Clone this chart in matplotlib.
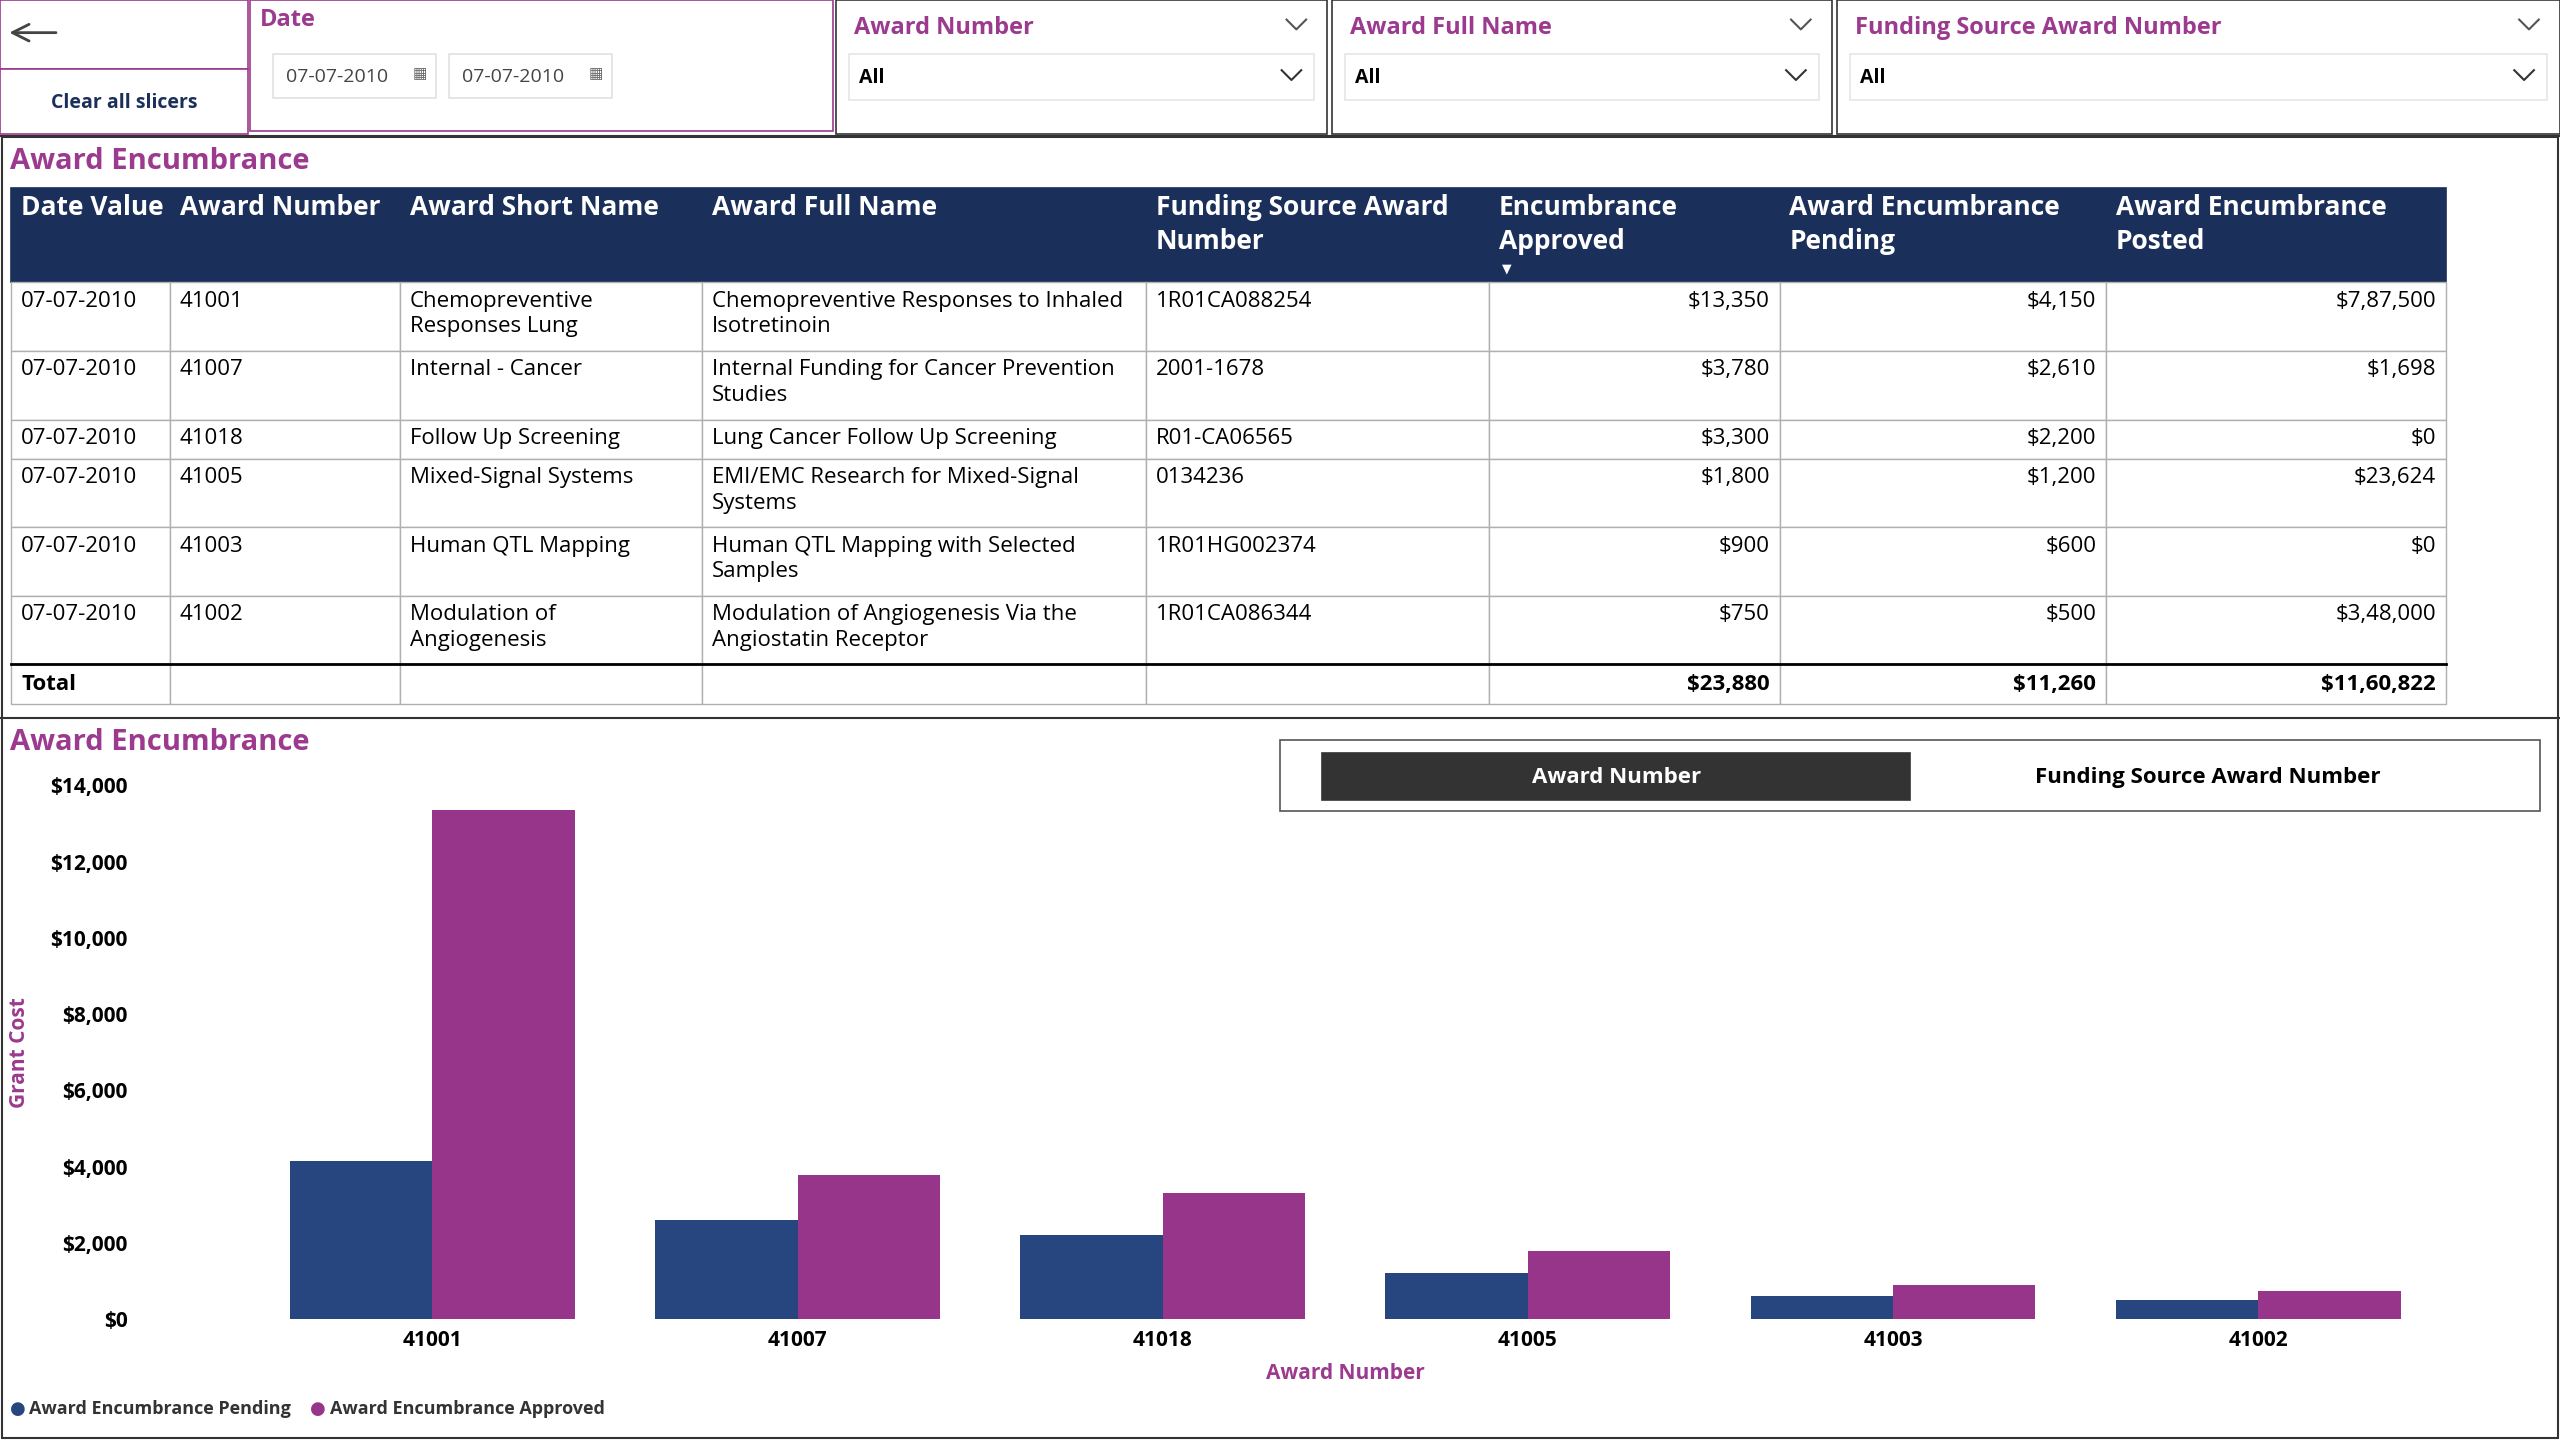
import matplotlib.pyplot as plt
from matplotlib.patches import Rectangle
import numpy as np

plt.rcParams['font.family'] = ['Open Sans', 'DejaVu Sans']

NAVY = "#1B2F5B"
BLUE = "#27467F"
PURPLE = "#97358B"
TITLE = "#9B3A8E"

# table data
columns = ["Date Value", "Award Number", "Award Short Name", "Award Full Name",
           "Funding Source Award\nNumber", "Encumbrance\nApproved",
           "Award Encumbrance\nPending", "Award Encumbrance\nPosted"]
dates = ["07-07-2010"] * 6
award_numbers = ["41001", "41007", "41018", "41005", "41003", "41002"]
short_names = ["Chemopreventive\nResponses Lung", "Internal - Cancer", "Follow Up Screening",
               "Mixed-Signal Systems", "Human QTL Mapping", "Modulation of\nAngiogenesis"]
full_names = ["Chemopreventive Responses to Inhaled\nIsotretinoin",
              "Internal Funding for Cancer Prevention\nStudies",
              "Lung Cancer Follow Up Screening",
              "EMI/EMC Research for Mixed-Signal\nSystems",
              "Human QTL Mapping with Selected\nSamples",
              "Modulation of Angiogenesis Via the\nAngiostatin Receptor"]
funding_numbers = ["1R01CA088254", "2001-1678", "R01-CA06565", "0134236", "1R01HG002374", "1R01CA086344"]
approved = [13350, 3780, 3300, 1800, 900, 750]
pending = [4150, 2610, 2200, 1200, 600, 500]
posted = ["$7,87,500", "$1,698", "$0", "$23,624", "$0", "$3,48,000"]
totals = ["$23,880", "$11,260", "$11,60,822"]

fig = plt.figure(figsize=(25.6, 14.4), dpi=100)
bg = fig.add_axes([0, 0, 1, 1])
bg.set_xlim(0, 1568)
bg.set_ylim(882, 0)
bg.axis("off")


def box(x0, y0, x1, y1, fc="white", ec="#C8C8C8", lw=1.2, z=1):
    bg.add_patch(Rectangle((x0, y0), x1 - x0, y1 - y0, fc=fc, ec=ec, lw=lw, zorder=z))


def txt(x, y, s, size=16, color="black", weight="normal", ha="left", va="center", **kw):
    bg.text(x, y, s, fontsize=size, color=color, fontweight=weight, ha=ha, va=va, **kw)


# --- slicer bar ---
box(0, 0, 152, 42, ec="#9B3A8E")
bg.annotate("", xy=(4, 20), xytext=(36, 20),
            arrowprops=dict(arrowstyle="->", lw=2, color="#444444", mutation_scale=30))
box(0, 42, 152, 82, ec="#9B3A8E")
txt(76, 63, "Clear all slicers", size=14, weight="bold", color="#1B2F5B", ha="center")
box(153, 0, 510, 80, ec="#9B3A8E")
txt(159, 12, "Date", size=17, weight="bold", color=TITLE)
for x0 in (167, 275):
    box(x0, 33, x0 + 100, 60, ec="#E0E0E0")
    txt(x0 + 8, 47, "07-07-2010", size=14, color="#444444")
    txt(x0 + 90, 46, "▦", size=11, color="#666666", ha="center")
slicers = [(512, 813, "Award Number"), (816, 1122, "Award Full Name"),
           (1125, 1568, "Funding Source Award Number")]
for x0, x1, name in slicers:
    box(x0, 0, x1, 82, ec="#333333")
    txt(x0 + 11, 17, name, size=17, weight="bold", color=TITLE)
    bg.plot([x1 - 25, x1 - 19, x1 - 13], [12, 18, 12], color="#555555", lw=1.5)
    box(x0 + 8, 33, x1 - 8, 61, ec="#E6E6E6")
    txt(x0 + 14, 48, "All", size=14, weight="bold")
    bg.plot([x1 - 28, x1 - 22, x1 - 16], [43, 49, 43], color="#333333", lw=1.5)
bg.plot([0, 1568], [83, 83], color="#333333", lw=1.5)

# --- table ---
txt(6, 99, "Award Encumbrance", size=21, weight="bold", color=TITLE)
xs = [7, 104, 245, 430, 702, 912, 1090, 1290, 1498]
ys = [173, 215, 257, 281, 323, 365, 407]
box(7, 115, 1498, 173, fc=NAVY, ec=NAVY)
for i, c in enumerate(columns):
    txt(xs[i] + 6, 119, c, size=19, weight="bold", color="white", va="top", linespacing=1.3)
txt(923, 165, "▼", size=9, color="white", ha="center")
cells = list(zip(dates, award_numbers, short_names, full_names, funding_numbers,
                 ["${:,}".format(v) for v in approved], ["${:,}".format(v) for v in pending], posted))
for r, row in enumerate(cells):
    y0, y1 = ys[r], ys[r + 1]
    for c, val in enumerate(row):
        box(xs[c], y0, xs[c + 1], y1, ec="#B0B0B0", lw=1)
        if c >= 5:
            txt(xs[c + 1] - 6, y0 + 5, val, size=16, ha="right", va="top")
        else:
            txt(xs[c] + 6, y0 + 5, val, size=16, va="top", linespacing=1.3)
for c in range(8):
    box(xs[c], 407, xs[c + 1], 431, ec="#B0B0B0", lw=1)
txt(13, 419, "Total", size=16, weight="bold")
for c, t in zip(range(5, 8), totals):
    txt(xs[c + 1] - 6, 419, t, size=16, weight="bold", ha="right")
bg.plot([7, 1498], [407, 407], color="black", lw=2)
bg.plot([0, 1568], [440, 440], color="#333333", lw=1.5)
box(1, 84, 1567, 881, fc="none", ec="#333333", lw=1.5)

# --- chart header ---
txt(6, 455, "Award Encumbrance", size=21, weight="bold", color=TITLE)
box(784, 453, 1556, 497, ec="#555555")
box(810, 461, 1170, 490, fc="#333333", ec="#333333", z=2)
txt(990, 476, "Award Number", size=16, weight="bold", color="white", ha="center", zorder=3)
txt(1352, 476, "Funding Source Award Number", size=16, weight="bold", ha="center")

# --- bar chart ---
W, H = 1568, 882
ax = fig.add_axes([153 / W, 1 - 808 / H, (1495 - 153) / W, (808 - 481) / H])
x = np.arange(len(award_numbers))
bw = 0.39
ax.bar(x - bw / 2, pending, bw, color=BLUE, label="Award Encumbrance Pending")
ax.bar(x + bw / 2, approved, bw, color=PURPLE, label="Award Encumbrance Approved")
ax.set_xlim(-0.5, 5.5)
ax.set_ylim(0, 14000)
ax.set_yticks(range(0, 14001, 2000))
ax.set_yticklabels(["${:,}".format(v) for v in range(0, 14001, 2000)], fontsize=15, fontweight="bold")
ax.set_xticks(x)
ax.set_xticklabels(award_numbers, fontsize=15, fontweight="bold")
ax.tick_params(length=0, pad=8)
ax.yaxis.set_tick_params(pad=88)
for s in ax.spines.values():
    s.set_visible(False)
ax.patch.set_alpha(0)
txt(824, 841, "Award Number", size=15, weight="bold", color=TITLE, ha="center")
txt(12, 645, "Grant Cost", size=15, weight="bold", color=TITLE, ha="center", rotation=90)
txt(6, 863, "●", size=13, color=BLUE)
txt(18, 863, "Award Encumbrance Pending", size=13, weight="bold", color="#333333")
txt(190, 863, "●", size=13, color=PURPLE)
txt(202, 863, "Award Encumbrance Approved", size=13, weight="bold", color="#333333")

fig.savefig("out.png", dpi=100)
